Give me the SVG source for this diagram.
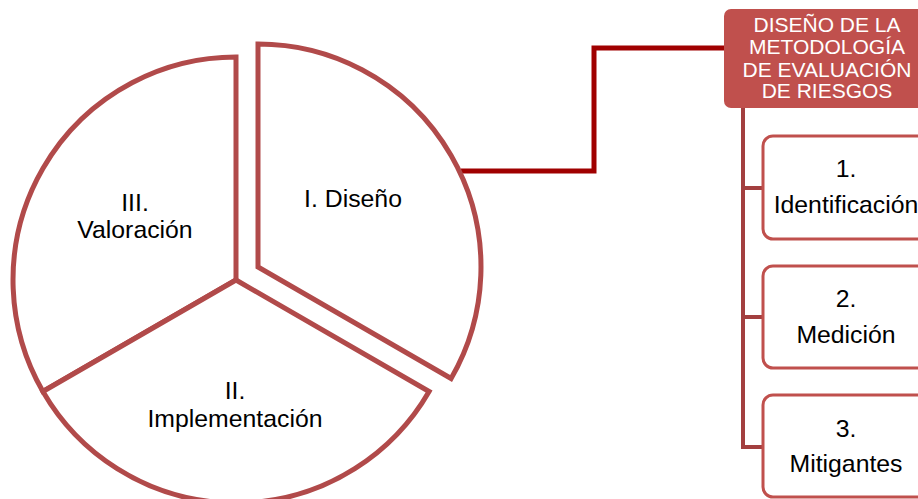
<svg xmlns="http://www.w3.org/2000/svg" width="918" height="499" viewBox="0 0 918 499">
  <style>
    .slice { fill: #ffffff; stroke: #B14A4A; stroke-width: 5; stroke-linejoin: miter; }
    .lbl { font-family: "Liberation Sans", Arial, sans-serif; font-size: 24.8px; fill: #000000; text-anchor: middle; }
    .head { fill: #C0504D; }
    .headtxt { font-family: "Liberation Sans", Arial, sans-serif; font-size: 21px; fill: #ffffff; text-anchor: middle; }
    .child { fill: #ffffff; stroke: #C0504D; stroke-width: 3; }
    .link { fill: none; stroke: #A00000; stroke-width: 5; stroke-linejoin: miter; }
    .tree { fill: none; stroke: #A33F3F; stroke-width: 4; }
  </style>

  <!-- connectors -->
  <g id="connectors">
    <polyline class="link" points="461,171 594,171 594,48 724,48"/>
    <polyline class="tree" points="743,108 743,447 763,447"/>
    <line class="tree" x1="743" y1="188" x2="763" y2="188"/>
    <line class="tree" x1="743" y1="317" x2="763" y2="317"/>
  </g>

  <!-- pie: three phases -->
  <g id="slice-valoracion">
    <path class="slice" d="M236,280 L42.9,391.5 A223,223 0 0 1 236,57 Z"/>
    <text class="lbl" x="135" y="211">III.</text>
    <text class="lbl" x="135" y="238">Valoración</text>
  </g>
  <g id="slice-implementacion">
    <path class="slice" d="M236,280 L429.1,391.5 A223,223 0 0 1 42.9,391.5 Z"/>
    <text class="lbl" x="235" y="399">II.</text>
    <text class="lbl" x="235" y="427">Implementación</text>
  </g>
  <g id="slice-diseno">
    <path class="slice" d="M258,267 L258,44 A223,223 0 0 1 451.1,378.5 Z"/>
    <text class="lbl" x="353" y="207">I. Diseño</text>
  </g>

  <!-- methodology header -->
  <g id="header">
    <rect class="head" x="724" y="9" width="206" height="99" rx="7"/>
    <text class="headtxt" x="827" y="32">DISEÑO DE LA</text>
    <text class="headtxt" x="827" y="54">METODOLOGÍA</text>
    <text class="headtxt" x="827" y="77">DE EVALUACIÓN</text>
    <text class="headtxt" x="827" y="98">DE RIESGOS</text>
  </g>

  <!-- steps -->
  <g id="step-1">
    <rect class="child" x="763" y="136" width="170" height="103" rx="10"/>
    <text class="lbl" x="846" y="177">1.</text>
    <text class="lbl" x="846" y="213">Identificación</text>
  </g>
  <g id="step-2">
    <rect class="child" x="763" y="266" width="170" height="102" rx="10"/>
    <text class="lbl" x="846" y="307">2.</text>
    <text class="lbl" x="846" y="343">Medición</text>
  </g>
  <g id="step-3">
    <rect class="child" x="763" y="395" width="170" height="102" rx="10"/>
    <text class="lbl" x="846" y="437">3.</text>
    <text class="lbl" x="846" y="472">Mitigantes</text>
  </g>
</svg>
